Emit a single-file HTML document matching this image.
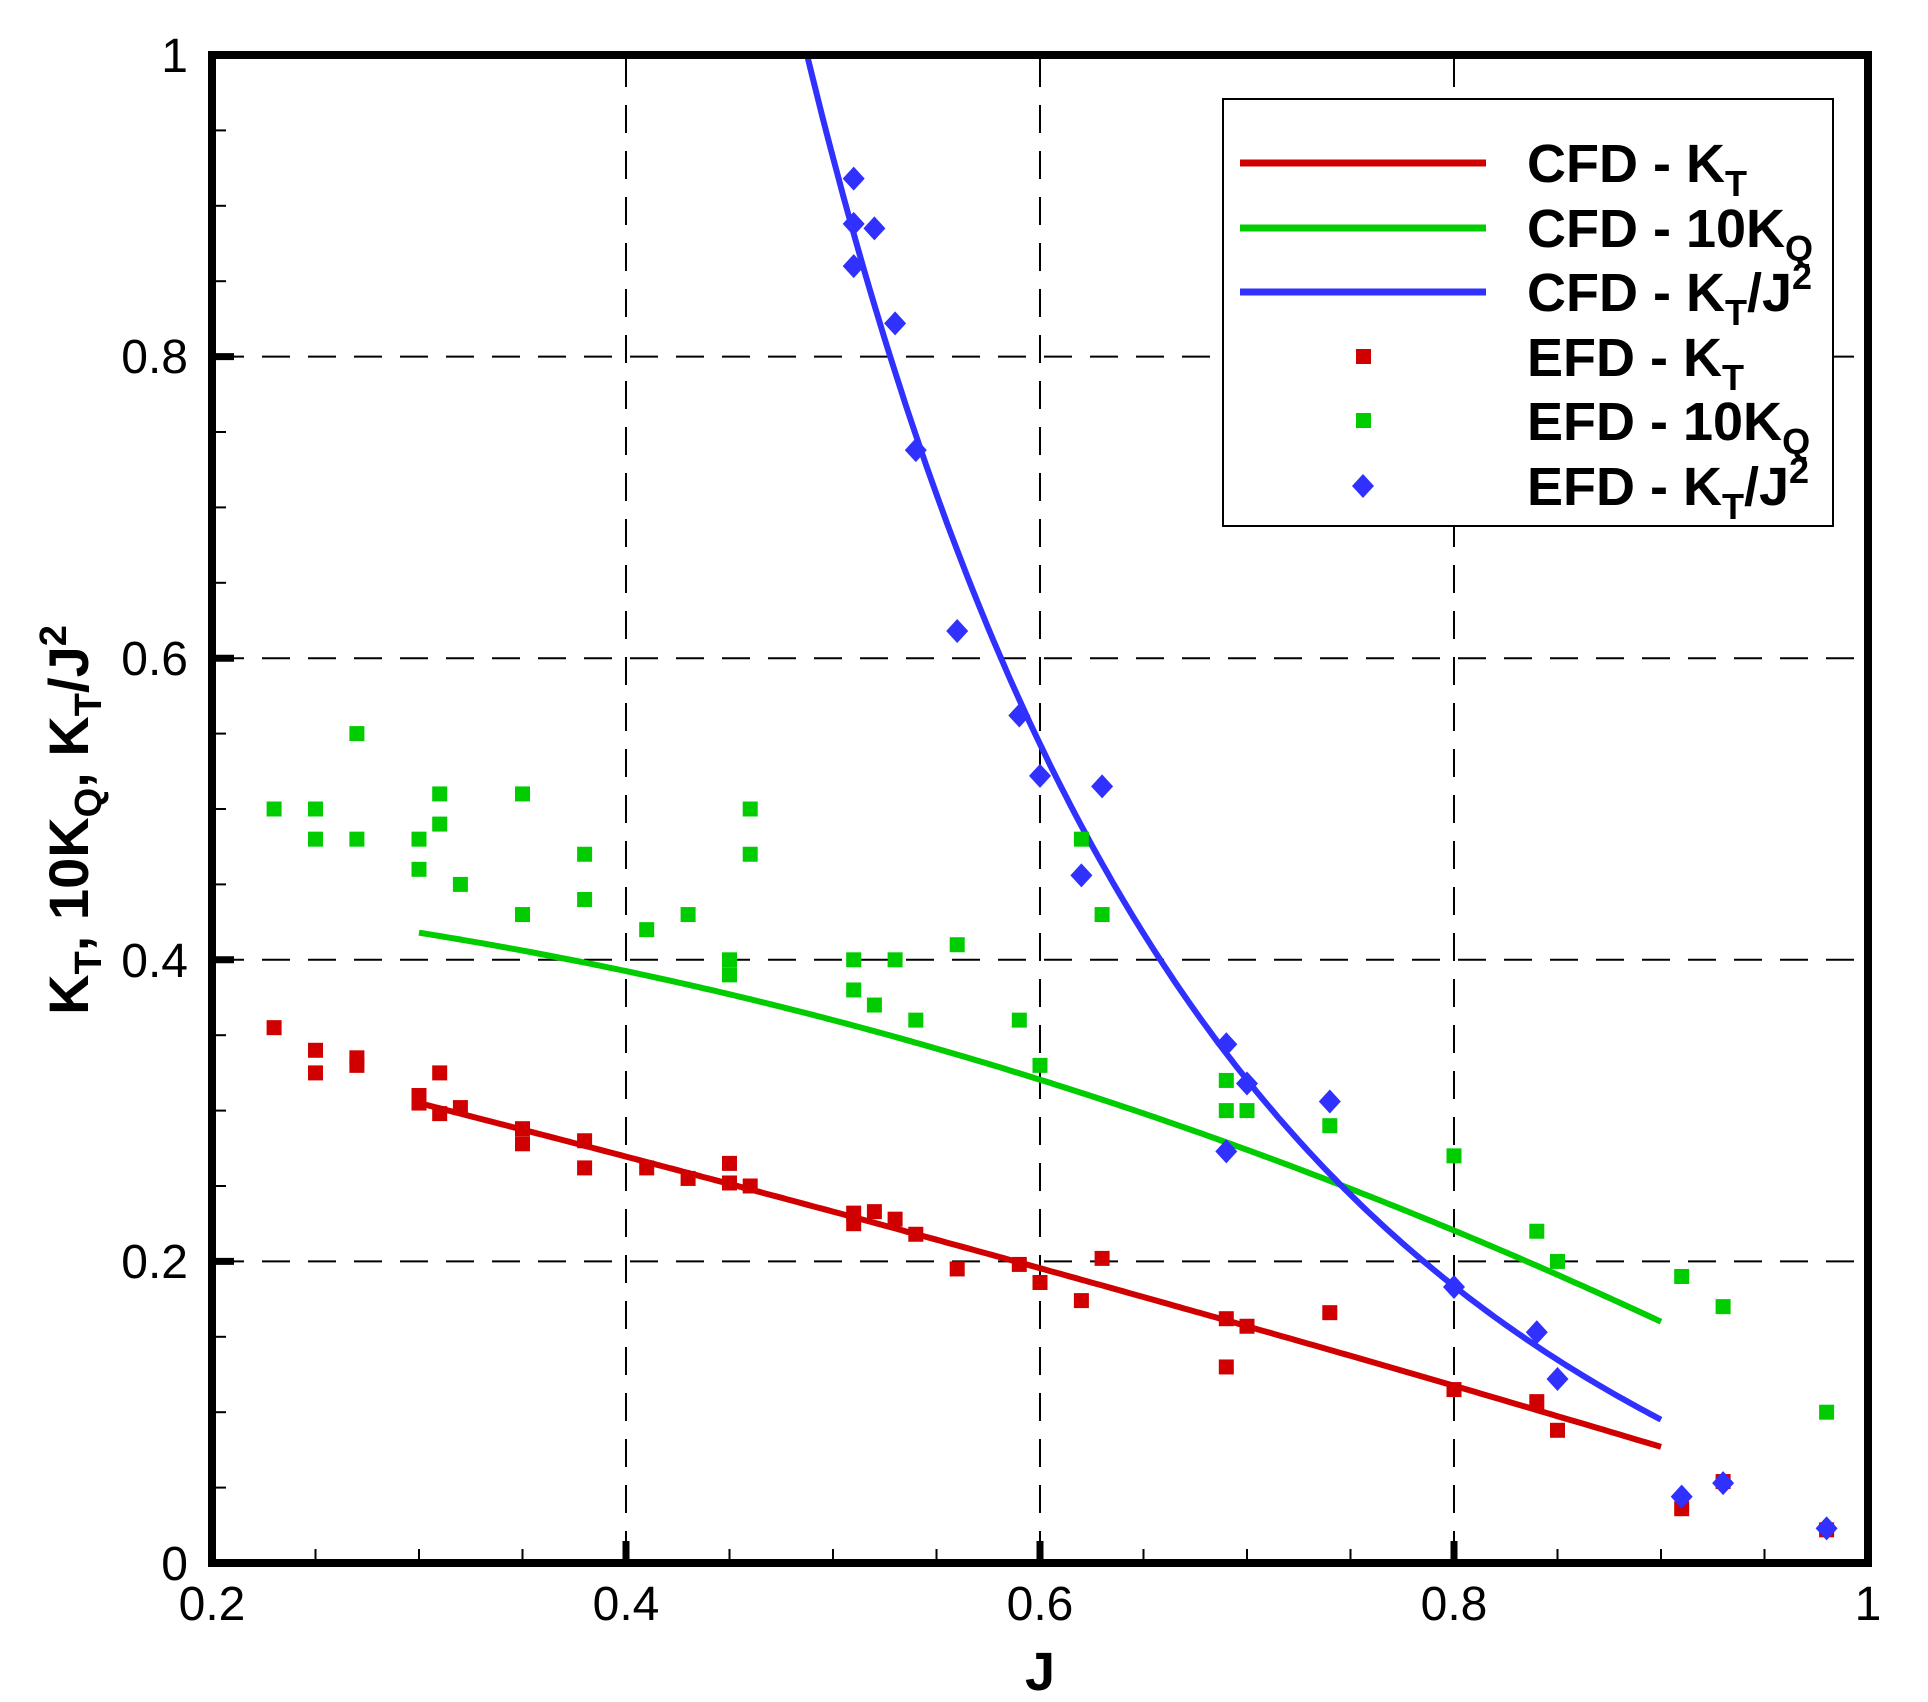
<!DOCTYPE html>
<html><head><meta charset="utf-8"><style>
html,body{margin:0;padding:0;background:#fff}
svg{display:block}
text{font-family:"Liberation Sans",Arial,sans-serif;fill:#000}
</style></head><body>
<svg id="s" width="1928" height="1702" viewBox="0 0 1928 1702" xmlns="http://www.w3.org/2000/svg">
<g id="grid" stroke="#000" stroke-width="2" stroke-dasharray="28,18" fill="none"></g>
<g id="ticks" stroke="#000" fill="none"></g>
<g id="series"></g>
<rect x="212" y="55" width="1656" height="1508" fill="none" stroke="#000" stroke-width="8"/>
<g font-size="48">
<text x="212" y="1620" text-anchor="middle">0.2</text>
<text x="626" y="1620" text-anchor="middle">0.4</text>
<text x="1040" y="1620" text-anchor="middle">0.6</text>
<text x="1454" y="1620" text-anchor="middle">0.8</text>
<text x="1868" y="1620" text-anchor="middle">1</text>
<text x="188" y="1580" text-anchor="end">0</text>
<text x="188" y="1278" text-anchor="end">0.2</text>
<text x="188" y="977" text-anchor="end">0.4</text>
<text x="188" y="675" text-anchor="end">0.6</text>
<text x="188" y="373" text-anchor="end">0.8</text>
<text x="188" y="72" text-anchor="end">1</text>
</g>
<text x="1040" y="1690" text-anchor="middle" font-size="54" font-weight="bold">J</text>
<text transform="translate(88,820) rotate(-90)" text-anchor="middle" font-size="56" font-weight="bold">K<tspan font-size="38" dy="13">T</tspan><tspan dy="-13">, 10K</tspan><tspan font-size="38" dy="13">Q</tspan><tspan dy="-13">, K</tspan><tspan font-size="38" dy="13">T</tspan><tspan dy="-13">/J</tspan><tspan font-size="38" dy="-22">2</tspan></text>
<rect x="1223" y="99" width="610" height="427" fill="#fff" stroke="#000" stroke-width="2"/>
<line x1="1240" y1="163" x2="1486" y2="163" stroke="#d00000" stroke-width="7"/>
<line x1="1240" y1="228" x2="1486" y2="228" stroke="#00cc00" stroke-width="7"/>
<line x1="1240" y1="292" x2="1486" y2="292" stroke="#3030ff" stroke-width="7"/>
<rect x="1356" y="349" width="15" height="15" fill="#d00000"/>
<rect x="1356" y="413" width="15" height="15" fill="#00cc00"/>
<polygon points="1363,474 1374,486 1363,498 1352,486" fill="#3030ff"/>
<g font-size="54" font-weight="bold">
<text x="1527" y="182">CFD - K<tspan font-size="36" dy="14">T</tspan></text>
<text x="1527" y="247">CFD - 10K<tspan font-size="36" dy="14">Q</tspan></text>
<text x="1527" y="311">CFD - K<tspan font-size="36" dy="14">T</tspan><tspan dy="-14">/J</tspan><tspan font-size="36" dy="-22">2</tspan></text>
<text x="1527" y="376">EFD - K<tspan font-size="36" dy="14">T</tspan></text>
<text x="1527" y="440">EFD - 10K<tspan font-size="36" dy="14">Q</tspan></text>
<text x="1527" y="505">EFD - K<tspan font-size="36" dy="14">T</tspan><tspan dy="-14">/J</tspan><tspan font-size="36" dy="-22">2</tspan></text>
</g>
</svg>
<script>
var NS="http://www.w3.org/2000/svg";
function X(j){return 212+(j-0.2)*2070;}
function Y(v){return 1563-v*1508;}
function el(p,t,a){var e=document.createElementNS(NS,t);for(var k in a)e.setAttribute(k,a[k]);p.appendChild(e);return e;}
var g=document.getElementById('grid'),tk=document.getElementById('ticks'),sr=document.getElementById('series');
[0.4,0.6,0.8].forEach(function(j){el(g,'line',{x1:X(j),y1:59,x2:X(j),y2:1559});});
[0.2,0.4,0.6,0.8].forEach(function(v){el(g,'line',{x1:216,y1:Y(v),x2:1864,y2:Y(v)});});
for(var i=1;i<16;i++){var j=0.2+i*0.05;var maj=(i%4==0);el(tk,'line',{x1:X(j),y1:1563,x2:X(j),y2:1563-(maj?22:14),'stroke-width':maj?7:2});}
for(var i=1;i<20;i++){var v=i*0.05;var maj=(i%4==0);el(tk,'line',{x1:212,y1:Y(v),x2:212+(maj?22:14),y2:Y(v),'stroke-width':maj?7:2});}
function kt(j){var d=j-0.3;return 0.305-0.35*d-0.05*d*d;}
function kq(j){var d=j-0.3;return 0.418-0.22*d-0.35*d*d;}
function line(f,a,b,c){var p=[];for(var j=a;j<=b+1e-9;j+=0.0025){var v=f(j);if(v<=1.005)p.push(X(j).toFixed(1)+","+Y(Math.min(v,1.0)).toFixed(1));}el(sr,'polyline',{points:p.join(' '),fill:'none',stroke:c,'stroke-width':6});}
line(kt,0.3,0.9,'#d00000');
line(kq,0.3,0.9,'#00cc00');
line(function(j){return kt(j)/(j*j);},0.48,0.9,'#3030ff');
var R=[[0.23,0.355],[0.25,0.34],[0.25,0.325],[0.27,0.335],[0.27,0.33],[0.30,0.31],[0.30,0.305],[0.31,0.325],[0.31,0.298],[0.32,0.302],[0.35,0.288],[0.35,0.278],[0.38,0.28],[0.38,0.262],[0.41,0.262],[0.43,0.255],[0.45,0.265],[0.45,0.252],[0.46,0.25],[0.51,0.232],[0.51,0.225],[0.52,0.233],[0.53,0.228],[0.54,0.218],[0.56,0.195],[0.59,0.198],[0.60,0.186],[0.62,0.174],[0.63,0.202],[0.69,0.162],[0.69,0.13],[0.70,0.157],[0.74,0.166],[0.80,0.115],[0.84,0.107],[0.85,0.088],[0.91,0.036],[0.93,0.054],[0.98,0.022]];
var G=[[0.23,0.5],[0.25,0.5],[0.25,0.48],[0.27,0.55],[0.27,0.48],[0.30,0.48],[0.30,0.46],[0.31,0.51],[0.31,0.49],[0.32,0.45],[0.35,0.51],[0.35,0.43],[0.38,0.47],[0.38,0.44],[0.41,0.42],[0.43,0.43],[0.45,0.40],[0.45,0.39],[0.46,0.50],[0.46,0.47],[0.51,0.40],[0.51,0.38],[0.52,0.37],[0.53,0.40],[0.54,0.36],[0.56,0.41],[0.59,0.36],[0.60,0.33],[0.62,0.48],[0.63,0.43],[0.69,0.32],[0.69,0.30],[0.70,0.30],[0.74,0.29],[0.80,0.27],[0.84,0.22],[0.85,0.20],[0.91,0.19],[0.93,0.17],[0.98,0.10]];
var B=[[0.51,0.918],[0.51,0.888],[0.51,0.86],[0.52,0.885],[0.53,0.822],[0.54,0.738],[0.56,0.618],[0.59,0.562],[0.60,0.522],[0.62,0.456],[0.63,0.515],[0.69,0.344],[0.69,0.273],[0.70,0.318],[0.74,0.306],[0.80,0.183],[0.84,0.153],[0.85,0.122],[0.91,0.044],[0.93,0.053],[0.98,0.023]];
R.forEach(function(p){el(sr,'rect',{x:X(p[0])-7.5,y:Y(p[1])-7.5,width:15,height:15,fill:'#d00000'});});
G.forEach(function(p){el(sr,'rect',{x:X(p[0])-7.5,y:Y(p[1])-7.5,width:15,height:15,fill:'#00cc00'});});
B.forEach(function(p){var x=X(p[0]),y=Y(p[1]);el(sr,'polygon',{points:x+','+(y-12)+' '+(x+11)+','+y+' '+x+','+(y+12)+' '+(x-11)+','+y,fill:'#3030ff'});});
</script>
</body></html>
